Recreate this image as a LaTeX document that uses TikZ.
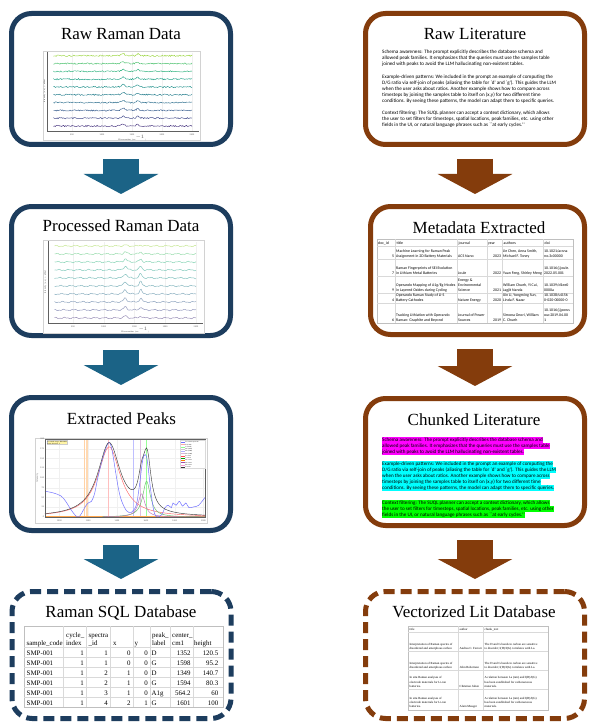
\documentclass[tikz,border=0pt]{standalone}
\usepackage{fontspec}
\newfontfamily\litsans{Carlito}
\newfontfamily\tabserif{Liberation Serif}
\usepackage{tikz}
\usetikzlibrary{positioning,arrows.meta,calc}
\definecolor{navy}{HTML}{1D3D5E}
\definecolor{arrowblue}{HTML}{1B6386}
\definecolor{rust}{HTML}{843C0C}
\definecolor{hlmag}{HTML}{FF00FF}
\definecolor{hlcyan}{HTML}{00FFFF}
\definecolor{hlgreen}{HTML}{00FF00}
\definecolor{vir0}{HTML}{46337E}
\definecolor{vir1}{HTML}{3F4889}
\definecolor{vir2}{HTML}{365C8D}
\definecolor{vir3}{HTML}{2E6F8E}
\definecolor{vir4}{HTML}{277F8E}
\definecolor{vir5}{HTML}{21918C}
\definecolor{vir6}{HTML}{1FA187}
\definecolor{vir7}{HTML}{2DB27D}
\definecolor{vir8}{HTML}{4AC16D}
\definecolor{vir9}{HTML}{9AD63E}
\newcommand{\litline}[1]{\rule[-1.6pt]{0pt}{6pt}#1}
\newcommand{\hlline}[2]{{\setlength{\fboxsep}{0pt}\colorbox{#1}{\rule[-1.6pt]{0pt}{6pt}#2}}}
% one row of the metadata sheet, #1 = bottom of the row
\newcommand{\metarow}[7]{%
  \node[metacell, anchor=south east] (meta-#2-id) at (394.3,#1) {#2\strut};
  \node[metacell, anchor=south west] (meta-#2-title) at (396,#1) {#3\strut};
  \node[metacell, anchor=south west] (meta-#2-jour) at (458,#1) {#4\strut};
  \node[metacell, anchor=south east] (meta-#2-year) at (501.2,#1) {#5\strut};
  \node[metacell, anchor=south west] (meta-#2-auth) at (503,#1) {#6\strut};
  \node[metacell, anchor=south west] (meta-#2-doi) at (544,#1) {#7\strut};
}
% one row of the vector store sheet
\newcommand{\vecrow}[5]{%
  \node[vcell, anchor=south west] (vec-#2-title) at (409.5,#1) {#3\strut};
  \node[vcell, anchor=south west] (vec-#2-auth) at (459.5,#1) {#4\strut};
  \node[vcell, anchor=south west] (vec-#2-chunk) at (484.5,#1) {#5\strut};
}
\tikzset{
  declare function={sqpk(\ww,\cc,\hw)=1/(1+((\ww-\cc)/\hw)^2)/(1+((\ww-\cc)/\hw)^2);
                    lor(\ww,\cc,\hw)=1/(1+((\ww-\cc)/\hw)^2);},
  stagebox/.style={draw, line width=5pt, rounded corners=20pt, minimum width=219pt, inner sep=0pt},
  rawside/.style={stagebox, draw=navy},
  litside/.style={stagebox, draw=rust},
  dbstage/.style={dash pattern=on 11pt off 6pt},
  boxtitle/.style={font=\tabserif\fontsize{17}{20}\selectfont, anchor=base, inner sep=0pt},
  flowblue/.style={line width=36pt, draw=arrowblue, -{Triangle[length=20pt,width=74pt]}, shorten <=12pt, shorten >=10pt},
  flowbrown/.style={flowblue, draw=rust},
  imgframe/.style={draw=gray!35, line width=0.5pt, fill=white},
  axisline/.style={draw=gray!75!black, line width=0.35pt},
  ticklabel/.style={font=\sffamily\fontsize{2.2}{2.6}\selectfont, inner sep=0pt, text=gray!70!black},
  legendtext/.style={font=\sffamily\fontsize{1.5}{1.8}\selectfont, inner sep=0pt, anchor=west},
  litpara/.style={font=\litsans\fontsize{5.1}{6}\selectfont, align=left, anchor=north west, inner sep=0pt},
  metacell/.style={font=\litsans\fontsize{3.9}{5}\selectfont, align=left, inner sep=0pt},
  vcell/.style={font=\tabserif\fontsize{3.1}{4.4}\selectfont, align=left, inner sep=0pt},
  sqlcell/.style={font=\tabserif\fontsize{6.9}{8}\selectfont, inner sep=0pt},
  tabrule/.style={draw=gray!30, line width=0.4pt},
}
\begin{document}
\begin{tikzpicture}[x=1pt, y=-1pt]
\fill[white] (0,0) rectangle (589,722);
\useasboundingbox (0,0) rectangle (589,722);
\pgfmathsetseed{42}

% stage boxes
\node[rawside, minimum height=131pt] (rawdata) at (121,79) {};
\node[rawside, minimum height=129pt] (procdata) at (121,271) {};
\node[rawside, minimum height=133pt] (peaks) at (121,464) {};
\node[rawside, dbstage, minimum height=127pt] (ramandb) at (121.5,655) {};
\node[litside, minimum height=131pt] (rawlit) at (475,79) {};
\node[litside, minimum width=214pt, minimum height=128pt] (metadata) at (477.5,270.5) {};
\node[litside, minimum height=127pt] (chunks) at (475,462) {};
\node[litside, dbstage, minimum height=127pt] (litdb) at (475,655) {};

\node[boxtitle] (rawdatatitle) at (121,39.3) {Raw Raman Data};
\node[boxtitle] (proctitle) at (121,231.7) {Processed Raman Data};
\node[boxtitle] (peakstitle) at (121.5,424.3) {Extracted Peaks};
\node[boxtitle] (ramandbtitle) at (121,617.3) {Raman SQL Database};
\node[boxtitle] (rawlittitle) at (475,39.3) {Raw Literature};
\node[boxtitle] (metatitle) at (479,233.3) {Metadata Extracted};
\node[boxtitle] (chunkstitle) at (474,425) {Chunked Literature};
\node[boxtitle] (litdbtitle) at (474,617.3) {Vectorized Lit Database};

% flow arrows
\draw[flowblue] (rawdata) -- (procdata);
\draw[flowblue] (procdata) -- (peaks);
\draw[flowblue] (peaks) -- (peaks |- ramandb.north);
\draw[flowbrown] (rawlit) -- (rawlit |- metadata.north);
\draw[flowbrown] (metadata.south -| chunks) -- (chunks);
\draw[flowbrown] (chunks) -- (litdb);

% raw spectra
\draw[imgframe] (43,51) rectangle (200,140);
\begin{scope}[shift={(42,0)}, x=0.06pt]
  \foreach \w in {500,1000,...,2500} {
    \draw[gray!12, line width=0.3pt] (\w,53) -- (\w,131);
    \node[ticklabel] (rawtick\w) at (\w,134.5) {\w};
  }
  \foreach \i in {0,...,9}
    \draw[color=vir\i, line width=0.45pt] plot[domain=190:2500, samples=150]
      (\x, {126-7.8*\i-0.7*rand-2.4*sqpk(\x,1350,45)-2*sqpk(\x,1595,35)});
  \draw[axisline] (83,52) -- (83,131) -- (2620,131);
\end{scope}
\node[ticklabel] (rawxlab) at (132,138) {Wavenumber (cm$^{-1}$)};
\node[ticklabel, rotate=90] (rawylab) at (44.6,91) {Intensity (a.u.) + offset};

% processed spectra
\draw[imgframe] (43,240) rectangle (204,333);
\begin{scope}[shift={(42.25,0)}, x=0.0615pt]
  \foreach \w in {500,1000,...,2500} {
    \draw[gray!12, line width=0.3pt] (\w,242) -- (\w,323);
    \node[ticklabel] (proctick\w) at (\w,326.5) {\w};
  }
  \foreach \i in {0,...,9}
    \draw[color=vir\i!55!white, line width=0.5pt] plot[domain=200:2500, samples=130]
      (\x, {318-8*\i-0.5*sin(2.2*\x+37*\i)-0.35*sin(5.3*\x+71*\i)
        -(0.6+1.2*sin(20*\i+10))*(2.6*sqpk(\x,1350,45)+2.6*sqpk(\x,1600,35))});
  \draw[axisline] (93.5,241) -- (93.5,323) -- (2614,323);
\end{scope}
\node[ticklabel] (procxlab) at (135,330) {Wavenumber (cm$^{-1}$)};
\node[ticklabel, rotate=90] (procylab) at (45.2,282) {Intensity (a.u.) + offset};

% fitted peaks
\draw[imgframe] (35,438) rectangle (207,523);
\begin{scope}[shift={(-84.69,517)}, x=0.1441pt, y=78pt]
  \foreach \w in {1000,1200,...,2000} {
    \draw[gray!12, line width=0.3pt] (\w,0) -- (\w,1);
    \node[ticklabel, anchor=north] (peaktick\w) at (\w,-0.03) {\w};
  }
  \foreach \v in {0.125,0.25,...,0.9} \draw[gray!12, line width=0.3pt] (900,\v) -- (2010,\v);
  \draw[orange!35, line width=1.2pt] (1172,0) -- (1172,1);
  \draw[orange!30, line width=1.2pt] (1191,0) -- (1191,1);
  \draw[red!25, line width=1pt] (1338,0) -- (1338,1);
  \draw[blue!25, line width=1pt] (1516,0) -- (1516,1);
  \draw[violet!25, line width=1pt] (1566,0) -- (1566,1);
  \draw[green!40, line width=1pt] (1605,0) -- (1605,1);
  \draw[orange!70, line width=0.4pt] (900,0.015) -- (2010,0.015);
  \draw[red!60, line width=0.45pt] plot[domain=900:2010, samples=120] (\x, {0.9*lor(\x,1345,95)});
  \draw[green!55!black!60, line width=0.45pt] plot[domain=1300:2010, samples=100] (\x, {0.46*lor(\x,1605,32)});
  \draw[violet!55, line width=0.45pt] plot[domain=1300:2010, samples=100] (\x, {0.3*lor(\x,1570,28)});
  \draw[blue!55, line width=0.5pt] plot[smooth, tension=0.55] coordinates {
    (900,0.33) (955,0.31) (1011,0.27) (1044,0.2) (1078,0.1) (1111,0.02) (1133,0.0)
    (1155,0.05) (1178,0.13) (1200,0.18) (1222,0.2) (1244,0.3) (1266,0.5) (1300,0.75)
    (1333,0.93) (1350,0.95) (1366,0.85) (1388,0.6) (1411,0.35) (1433,0.2) (1466,0.08)
    (1499,0.06) (1533,0.15) (1555,0.4) (1577,0.72) (1594,0.8) (1610,0.72) (1633,0.35)
    (1655,0.08) (1677,0.0) (1710,0.03) (1733,0.12) (1755,0.15) (1777,0.12) (1788,0.18)
    (1810,0.15) (1832,0.2) (1855,0.14) (1877,0.18) (1899,0.12) (1932,0.13) (1966,0.15)
    (2010,0.25)};
  \draw[black!75, line width=0.45pt] plot[domain=900:2010, samples=160]
    (\x, {0.94*lor(\x,1345,95)+0.46*lor(\x,1605,32)+0.3*lor(\x,1570,28)+0.22*lor(\x,1615,30)});
  \draw[axisline] (900,0) rectangle (2010,1);
\end{scope}
\foreach \k/\lab in {0/0,1/25,2/50,3/75,4/100,5/125,6/150,7/175,8/200}
  \node[ticklabel, anchor=east] (peakval\k) at (44.2,{517-9.75*\k}) {\lab};
\node[ticklabel, rotate=90] (peakylab) at (37.3,478) {Intensity};
\node[draw=gray!40, fill=orange!25!yellow!35, font=\sffamily\fontsize{1.6}{1.9}\selectfont,
  align=left, inner sep=0.5pt, anchor=north west] (peakinfo) at (46.5,440.3)
  {Processed range: 900--2010\\Peaks detected: 5};
\draw[fill=white, draw=gray!30, line width=0.3pt] (180,440) rectangle (205,468);
\foreach \c/\t [count=\k] in {blue!55/Processed spectrum, red!35/D (1350), green!45/G (1580),
    gray!40/D2 (1620), blue!30/D3 (1500), violet!30/D4 (1200), red!70/D center,
    green!60!black/G center, orange/D2 center, violet!70/D3 center, magenta!40/D4 center, black!80/Total fit} {
  \draw[\c, line width=0.5pt] (181.3,{440.2+2.25*\k}) -- (184.6,{440.2+2.25*\k});
  \node[legendtext] (leg\k) at (185.2,{440.2+2.25*\k}) {\t};
}

% raman database sheet
\draw[fill=white, draw=gray!50, line width=0.5pt] (24,626) rectangle (223,707);
\foreach \cx in {63,86,110,133,150,170,193} \draw[tabrule] (\cx,626) -- (\cx,707);
\foreach \ry in {647,657,...,697} \draw[tabrule] (24,\ry) -- (223,\ry);
\node[sqlcell, anchor=base west] (sqh-cyc) at (66,637) {cycle\_};
\node[sqlcell, anchor=base west] (sqh-spc) at (88.5,637) {spectra};
\node[sqlcell, anchor=base west] (sqh-peak) at (152,637) {peak\_};
\node[sqlcell, anchor=base west] (sqh-cen) at (172,637) {center\_};
\node[sqlcell, anchor=base west] (sqh-code) at (26.5,645) {sample\_code};
\node[sqlcell, anchor=base west] (sqh-idx) at (66,645) {index};
\node[sqlcell, anchor=base west] (sqh-id) at (88.5,645) {\_id};
\node[sqlcell, anchor=base west] (sqh-x) at (113,645) {x};
\node[sqlcell, anchor=base west] (sqh-y) at (134.5,645) {y};
\node[sqlcell, anchor=base west] (sqh-lab) at (152,645) {label};
\node[sqlcell, anchor=base west] (sqh-cm) at (172,645) {cm1};
\node[sqlcell, anchor=base west] (sqh-hgt) at (194,645) {height};
\foreach \code/\cyc/\spc/\px/\py/\lab/\cen/\hgt [count=\rowno] in {
    SMP-001/1/1/0/0/D/1352/120.5, SMP-001/1/1/0/0/G/1598/95.2,
    SMP-001/1/2/1/0/D/1349/140.7, SMP-001/1/2/1/0/G/1594/80.3,
    SMP-001/1/3/1/0/A1g/564.2/60, SMP-001/1/4/2/1/G/1601/100} {
  \pgfmathsetmacro\rowy{645.3+10*\rowno}
  \node[sqlcell, anchor=base west] (sql-\rowno-code) at (26.5,\rowy) {\code};
  \node[sqlcell, anchor=base east] (sql-\rowno-cyc) at (84,\rowy) {\cyc};
  \node[sqlcell, anchor=base east] (sql-\rowno-spc) at (108,\rowy) {\spc};
  \node[sqlcell, anchor=base east] (sql-\rowno-x) at (130.8,\rowy) {\px};
  \node[sqlcell, anchor=base east] (sql-\rowno-y) at (148,\rowy) {\py};
  \node[sqlcell, anchor=base west] (sql-\rowno-lab) at (151.5,\rowy) {\lab};
  \node[sqlcell, anchor=base east] (sql-\rowno-cen) at (190.8,\rowy) {\cen};
  \node[sqlcell, anchor=base east] (sql-\rowno-hgt) at (218.5,\rowy) {\hgt};
}

% raw literature text
\node[litpara] (litschema) at (382,48.8) {%
  \litline{Schema awareness: The prompt explicitly describes the database schema and}\\
  \litline{allowed peak families. It emphasizes that the queries must use the samples table}\\
  \litline{joined with peaks to avoid the LLM hallucinating non-existent tables.}};
\node[litpara] (litexample) at (382,73.8) {%
  \litline{Example-driven patterns: We included in the prompt an example of computing the}\\
  \litline{D/G ratio via self-join of peaks (aliasing the table for `d' and `g'). This guides the LLM}\\
  \litline{when the user asks about ratios. Another example shows how to compare across}\\
  \litline{timesteps by joining the samples table to itself on (x,y) for two different time}\\
  \litline{conditions. By seeing these patterns, the model can adapt them to specific queries.}};
\node[litpara] (litcontext) at (382,109.8) {%
  \litline{Context filtering: The SUQL planner can accept a context dictionary, which allows}\\
  \litline{the user to set filters for timesteps, spatial locations, peak families, etc. using other}\\
  \litline{fields in the UI, or natural language phrases such as ``at early cycles.''}};

% metadata sheet
\draw[fill=white, draw=gray!50, line width=0.5pt] (377,239) rectangle (573,323);
\foreach \cx in {395,457,487,502,543} \draw[tabrule] (\cx,239) -- (\cx,323);
\foreach \ry in {246,259,276,293,303} \draw[tabrule] (377,\ry) -- (573,\ry);
\node[metacell, anchor=base west] (metah-id) at (378,244.8) {doc\_id};
\node[metacell, anchor=base west] (metah-title) at (396.5,244.8) {title};
\node[metacell, anchor=base west] (metah-jour) at (458.5,244.8) {journal};
\node[metacell, anchor=base west] (metah-year) at (488,244.8) {year};
\node[metacell, anchor=base west] (metah-auth) at (503.5,244.8) {authors};
\node[metacell, anchor=base west] (metah-doi) at (544.5,244.8) {doi};
\metarow{259}{5}{Machine Learning for Raman Peak\\Assignment in 2D Battery Materials}{ACS Nano}{2023}{Jie Chen, Anna Smith,\\Michael F. Toney}{10.1021/acsna\\no.3c00000}
\metarow{276}{7}{Raman Fingerprints of SEI Evolution\\in Lithium Metal Batteries}{Joule}{2022}{Yuan Feng, Shirley Meng}{10.1016/j.joule.\\2022.05.001}
\metarow{293}{9}{Operando Mapping of A1g/Eg Modes\\in Layered Oxides during Cycling}{Energy \&\\Environmental\\Science}{2021}{William Chueh, Yi Cui,\\Jagjit Nanda}{10.1039/d1ee0\\0000a}
\metarow{303}{4}{Operando Raman Study of Li-S\\Battery Cathodes}{Nature Energy}{2020}{Xin Li, Yongming Sun,\\Linda F. Nazar}{10.1038/s4156\\0-020-00000-0}
\metarow{323}{6}{Tracking Lithiation with Operando\\Raman: Graphite and Beyond}{Journal of Power\\Sources}{2019}{Simona Onori, William\\C. Chueh}{10.1016/j.jpows\\our.2019.04.00\\1}

% chunked literature, one colour per chunk
\node[litpara] (chunkschema) at (382,436.8) {%
  \hlline{hlmag}{Schema awareness: The prompt explicitly describes the database schema and}\\
  \hlline{hlmag}{allowed peak families. It emphasizes that the queries must use the samples table}\\
  \hlline{hlmag}{joined with peaks to avoid the LLM hallucinating non-existent tables.}};
\node[litpara] (chunkexample) at (382,460.8) {%
  \hlline{hlcyan}{Example-driven patterns: We included in the prompt an example of computing the}\\
  \hlline{hlcyan}{D/G ratio via self-join of peaks (aliasing the table for `d' and `g'). This guides the LLM}\\
  \hlline{hlcyan}{when the user asks about ratios. Another example shows how to compare across}\\
  \hlline{hlcyan}{timesteps by joining the samples table to itself on (x,y) for two different time}\\
  \hlline{hlcyan}{conditions. By seeing these patterns, the model can adapt them to specific queries.}};
\node[litpara] (chunkcontext) at (382,499.8) {%
  \hlline{hlgreen}{Context filtering: The SUQL planner can accept a context dictionary, which allows}\\
  \hlline{hlgreen}{the user to set filters for timesteps, spatial locations, peak families, etc. using other}\\
  \hlline{hlgreen}{fields in the UI, or natural language phrases such as ``at early cycles.''}};

% vector store sheet
\draw[fill=white, draw=gray!50, line width=0.5pt] (408,626) rectangle (548,710);
\foreach \cx in {458,483} \draw[tabrule] (\cx,626) -- (\cx,710);
\foreach \ry in {632,651,670,689} \draw[tabrule] (408,\ry) -- (548,\ry);
\node[vcell, anchor=base west] (vech-title) at (409.5,630.8) {title};
\node[vcell, anchor=base west] (vech-auth) at (459.5,630.8) {author};
\node[vcell, anchor=base west] (vech-chunk) at (484.5,630.8) {chunk\_text};
\vecrow{651}{a}{Interpretation of Raman spectra of\\disordered and amorphous carbon}{Andrea C. Ferrari}{The D and G bands in carbon are sensitive\\to disorder; I(D)/I(G) correlates with La.}
\vecrow{670}{b}{Interpretation of Raman spectra of\\disordered and amorphous carbon}{John Robertson}{The D and G bands in carbon are sensitive\\to disorder; I(D)/I(G) correlates with La.}
\vecrow{689}{c}{In situ Raman analyses of\\electrode materials for Li-ion\\batteries.}{Christian Julien}{A relation between La (nm) and I(D)/I(G)\\has been established for carbonaceous\\materials.}
\vecrow{709.5}{d}{In situ Raman analyses of\\electrode materials for Li-ion\\batteries.}{Alain Mauger}{A relation between La (nm) and I(D)/I(G)\\has been established for carbonaceous\\materials.}
\end{tikzpicture}
\end{document}
